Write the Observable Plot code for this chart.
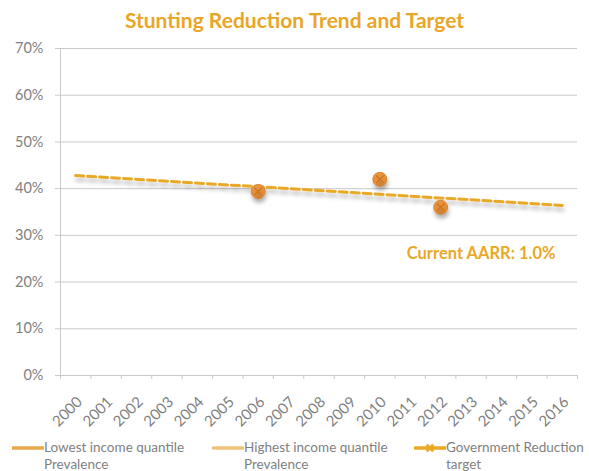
<!DOCTYPE html>
<html><head><meta charset="utf-8">
<script src="https://cdn.jsdelivr.net/npm/d3@7"></script>
<script src="https://cdn.jsdelivr.net/npm/@observablehq/plot@0.6"></script>
<style>
body{margin:0;background:#fff;font-family:Lato,"Open Sans",sans-serif;}
#wrap{position:relative;width:589px;height:471px;overflow:hidden;background:#fff}
#title{height:36px;line-height:40px;text-align:center;font-weight:bold;font-size:21px;color:#E9A526;}
#legend{position:relative;height:35px;}
.item{position:absolute;top:3px;font-size:13.5px;line-height:17px;color:#7F7F7F;}
.item svg{position:absolute;left:0;top:4px;}
.item span{position:absolute;white-space:nowrap;}
</style></head>
<body>
<div id="wrap">
<div id="title">Stunting Reduction Trend and Target</div>
<div id="chart"></div>
<div id="legend"></div>
</div>
<script>
const years = d3.range(2000, 2017);
const yTicks = [0, 10, 20, 30, 40, 50, 60, 70];
const pointYears = [2006, 2010, 2012];
const pointValues = [39.4, 42.0, 36.0];
const targetYears = [2000, 2016];
const targetValues = [42.8, 36.4];
const annotation = "Current AARR: 1.0%";
const legendLabels = [
  ["Lowest income quantile", "Prevalence"],
  ["Highest income quantile", "Prevalence"],
  ["Government Reduction", "target"]
];

const gold = "#E9A825";
const gray = "#7F7F7F";
const grid = "#C9C9C9";

const points = pointYears.map((y, i) => ({year: y, value: pointValues[i]}));
const target = targetYears.map((y, i) => ({year: y, value: targetValues[i]}));
const bounds = years.map(y => y - 0.5).concat([years[years.length - 1] + 0.5]);

const chart = Plot.plot({
  width: 589,
  height: 400,
  marginTop: 12,
  marginBottom: 61,
  marginLeft: 60,
  marginRight: 12,
  style: {fontFamily: "Lato, 'Open Sans', sans-serif", background: "#fff"},
  x: {domain: [bounds[0], bounds[bounds.length - 1]], label: null},
  y: {domain: [0, 70], label: null},
  marks: [
    Plot.gridY(yTicks.slice(1), {stroke: grid, strokeOpacity: 1}),
    Plot.ruleX([bounds[0]], {stroke: grid}),
    Plot.ruleY([0], {stroke: grid}),
    Plot.axisY(yTicks, {tickSize: 5, tickPadding: 12, stroke: grid, fill: gray, fontSize: 14.5, tickFormat: d => d + "%", label: null}),
    Plot.axisX(bounds, {tickSize: 4, stroke: grid, tickFormat: () => "", label: null}),
    Plot.axisX(years, {tickSize: 0, tickRotate: -45, tickPadding: 24, fill: gray, fontSize: 15, tickFormat: d => String(d), dx: 4, label: null}),
    Plot.line(target, {x: "year", y: "value", stroke: gold, strokeWidth: 3, strokeDasharray: "8,4"}),
    Plot.dot(points, {x: "year", y: "value", r: 7, fill: "#E8933E", stroke: "#DE8733", strokeWidth: 1}),
    Plot.dot(points, {x: "year", y: "value", r: 3.5, symbol: "times", stroke: "#CC7524", strokeWidth: 1.3}),
    Plot.text([annotation], {frameAnchor: "right", textAnchor: "end", dx: -22, dy: 41.5, fill: gold, fontSize: 16.5, fontWeight: "bold"})
  ]
});

// drop shadow like the original
const ns = "http://www.w3.org/2000/svg";
const defs = document.createElementNS(ns, "defs");
defs.innerHTML = '<filter id="sh" x="-20%" y="-50%" width="140%" height="300%"><feDropShadow dx="1" dy="4" stdDeviation="2.2" flood-color="#000" flood-opacity="0.28"/></filter>';
chart.insertBefore(defs, chart.firstChild);
chart.querySelectorAll('g[aria-label="line"], g[aria-label="dot"]').forEach(g => g.setAttribute("filter", "url(#sh)"));
document.getElementById("chart").appendChild(chart);

// legend
const legendSwatches = [
  {left: 12, color: "#E9A94A", marker: false},
  {left: 212, color: "#F0C27C", marker: false},
  {left: 414, color: gold, marker: true}
];
const legend = document.getElementById("legend");
legendLabels.forEach((lab, i) => {
  const s = legendSwatches[i];
  const div = document.createElement("div");
  div.className = "item";
  div.style.left = s.left + "px";
  const svg = d3.create("svg").attr("width", 32).attr("height", 10);
  svg.append("line").attr("x1", 1).attr("x2", 31).attr("y1", 5).attr("y2", 5)
    .attr("stroke", s.color).attr("stroke-width", 3.5).attr("stroke-linecap", "round");
  if (s.marker) {
    svg.append("path").attr("d", d3.symbol(d3.symbolTimes, 30)()).attr("transform", "translate(16,5)")
      .attr("stroke", s.color).attr("stroke-width", 3).attr("fill", "none");
  }
  div.appendChild(svg.node());
  const t = document.createElement("span");
  t.style.left = "32px";
  t.innerHTML = lab[0] + "<br>" + lab[1];
  div.appendChild(t);
  legend.appendChild(div);
});
</script>
</body></html>
